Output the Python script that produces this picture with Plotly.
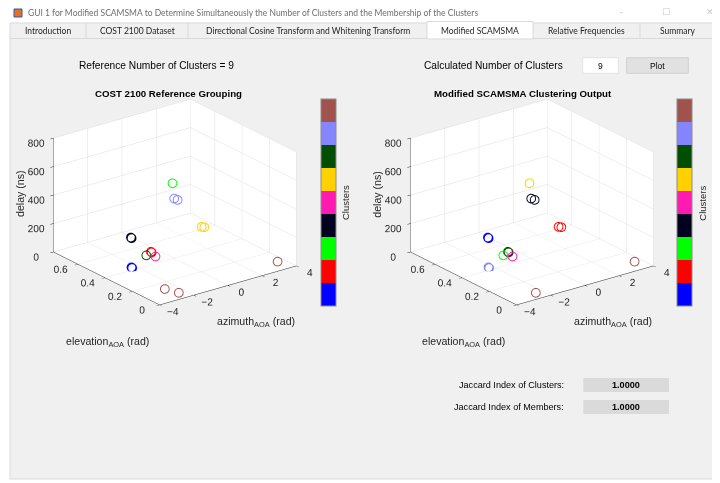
import plotly.graph_objects as go

# The page body has an 8px margin, so the figure is 712x475 and every
# pixel position below is given in window coordinates and shifted by 8.
OFF = 8
W, H = 720 - OFF, 483 - OFF

# ---------------- data ----------------
azimuth   = [-0.48, -0.38, -0.18, 0.03, 0.19, -1.72, -1.68, -1.74, -1.70, -2.01, -1.87, -2.48, -2.44, 3.28, -3.31, -2.73]
elevation = [0.35, 0.35, 0.35, 0.20, 0.20, 0.50, 0.50, 0.35, 0.35, 0.35, 0.30, 0.40, 0.40, 0.05, 0.05, 0.02]
delay     = [568, 457, 441, 316, 308, 158, 152, 130, 124, 114, 125, 22, 16, 32, 65, 33]
ref_cluster     = [3, 8, 8, 6, 6, 4, 4, 2, 2, 7, 5, 1, 1, 9, 9, 9]
scamsma_cluster = [6, 4, 4, 2, 2, 1, 1, 7, 7, 3, 5, 8, 8, 9, None, 9]

cluster_colors = ['#0000FF', '#FF0000', '#00FF00', '#00001F', '#FF1AB2',
                  '#FFD100', '#004F00', '#8585FF', '#A0524C']
n_clusters = len(cluster_colors)

azimuth_ticks = [-4, -2, 0, 2, 4]
elevation_ticks = [0, 0.2, 0.4, 0.6]
delay_ticks = [0, 200, 400, 600, 800]

tab_labels = ['Introduction', 'COST 2100 Dataset',
              'Directional Cosine Transform and Whitening Transform',
              'Modified SCAMSMA', 'Relative Frequencies', 'Summary']
tab_edges = [10, 86, 188, 427, 533, 640, 716]
selected_tab = 3

reference_n = 9
calculated_n = 9
jaccard_clusters = 1.0
jaccard_members = 1.0

# ---------------- helpers ----------------
def px(x):
    return (x - OFF) / W

def py(y):
    return 1 - (y - OFF) / H

colorscale = []
for i, c in enumerate(cluster_colors):
    colorscale.append([i / n_clusters, c])
    colorscale.append([(i + 1) / n_clusters, c])

TXT = '#262626'
UIFONT = 'Liberation Sans, Arial, sans-serif'
WINFONT = 'Lato, Noto Sans, sans-serif'

axis_common = dict(
    showbackground=True, backgroundcolor='white',
    gridcolor='#DEDEDE', gridwidth=1,
    showline=True, linecolor=TXT, linewidth=1,
    zeroline=False, ticks='outside', ticklen=4, tickcolor=TXT,
    tickfont=dict(family=UIFONT, size=11, color=TXT), tickangle=0,
    title=dict(text=''), showspikes=False,
)

D = 1.5
camera = dict(eye=dict(x=-0.558 * D, y=-0.739 * D, z=0.377 * D),
              up=dict(x=0, y=0, z=1), center=dict(x=0, y=0, z=0),
              projection=dict(type='orthographic'))

S = 1.252  # overall scale of the plot box
HALF_W, HALF_H = 165, 137


def make_scene(cx, cy):
    return dict(
        domain=dict(x=[px(cx - HALF_W), px(cx + HALF_W)], y=[py(cy + HALF_H), py(cy - HALF_H)]),
        xaxis=dict(axis_common, range=[-4, 4], tickvals=azimuth_ticks),
        yaxis=dict(axis_common, range=[0, 0.78], tickvals=elevation_ticks),
        zaxis=dict(axis_common, range=[0, 800], tickvals=delay_ticks),
        aspectmode='manual', aspectratio=dict(x=1 * S, y=1.025 * S, z=0.717 * S),
        camera=camera, bgcolor='rgba(0,0,0,0)', dragmode=False,
    )


def cluster_trace(labels, scene, cb_x):
    xs, ys, zs, cs = [], [], [], []
    for a, e, d, c in zip(azimuth, elevation, delay, labels):
        if c is None:
            continue
        xs.append(a); ys.append(e); zs.append(d); cs.append(c)
    return go.Scatter3d(
        x=xs, y=ys, z=zs, mode='markers', scene=scene, hoverinfo='skip',
        marker=dict(symbol='circle-open', size=5.5, color=cs,
                    colorscale=colorscale, cmin=0.5, cmax=n_clusters + 0.5,
                    line=dict(width=0),
                    showscale=True,
                    colorbar=dict(x=px(cb_x), xanchor='left', y=py(202.7), yanchor='middle',
                                  len=206.7, lenmode='pixels', thickness=15,
                                  thicknessmode='pixels', xpad=0, ypad=0,
                                  outlinewidth=1, outlinecolor='#8C8C8C',
                                  showticklabels=False, ticks='', tickvals=[])),
        showlegend=False,
    )


fig = go.Figure()
fig.add_trace(cluster_trace(ref_cluster, 'scene', 321))
fig.add_trace(cluster_trace(scamsma_cluster, 'scene2', 676.7))

shift = 356.7
shapes = []
annotations = []


def note(text, x, y, size, color='black', family=UIFONT, xanchor='center', textangle=0):
    annotations.append(dict(text=text, x=px(x), y=py(y), xref='paper', yref='paper',
                            xanchor=xanchor, yanchor='middle', showarrow=False,
                            textangle=textangle,
                            font=dict(family=family, size=size, color=color)))


def rect(x0, x1, y0, y1, fill, line_color=None, lw=1):
    shapes.append(dict(type='rect', xref='paper', yref='paper', x0=px(x0), x1=px(x1),
                       y0=py(y1), y1=py(y0), fillcolor=fill,
                       line=dict(color=line_color or fill, width=lw if line_color else 0),
                       layer='below'))


# window chrome
rect(OFF, 720, OFF, 22, 'white')
rect(10, 716, 23, 479, '#F0F0F0', '#D9D9D9')
rect(14, 22, 9, 17, '#E86F28', '#2A5DA8')
note('GUI 1 for Modified SCAMSMA to Determine Simultaneously the Number of Clusters and the Membership of the Clusters',
     26, 13, 8.5, color='#6E6E6E', family=WINFONT, xanchor='left')
for gx, g in [(621, '–'), (666, '☐'), (710, '✕')]:
    note(g, gx, 12, 9, color='#C8C8C8', family='DejaVu Sans')

# tabs
shapes.append(dict(type='line', xref='paper', yref='paper', x0=px(10), x1=px(716), y0=py(38.5), y1=py(38.5),
                   line=dict(color='#D9D9D9', width=1), layer='below'))
rect(tab_edges[selected_tab], tab_edges[selected_tab + 1], 21.5, 39, 'white', '#D9D9D9')
for i, lab in enumerate(tab_labels):
    x0, x1 = tab_edges[i], tab_edges[i + 1]
    if i > 0 and i != selected_tab and i != selected_tab + 1:
        shapes.append(dict(type='line', xref='paper', yref='paper', x0=px(x0), x1=px(x0),
                           y0=py(38), y1=py(23), line=dict(color='#D9D9D9', width=1), layer='below'))
    note(lab, (x0 + x1) / 2, 31, 8.5, color='#1E1E1E', family=WINFONT)

# header texts
note(f'Reference Number of Clusters = {reference_n}', 156, 65, 10.2)
note('Calculated Number of Clusters', 494, 65, 10.2)
rect(582.7, 618.3, 57.7, 73.3, 'white', '#E3E3E3')
note(str(calculated_n), 600.5, 65.5, 8.5)
rect(626.7, 688.3, 57.7, 73.3, '#E1E1E1', '#D0D0D0')
note('Plot', 657.5, 65.5, 8.5)

# plot titles
note('<b>COST 2100 Reference Grouping</b>', 168.6, 93, 9.7)
note('<b>Modified SCAMSMA Clustering Output</b>', 523, 93, 9.7)

# axis titles and colorbar titles
for dx in [0, shift]:
    note('delay (ns)', 20 + dx, 194, 10.6, color=TXT, textangle=-90)
    note('azimuth<sub>AOA</sub> (rad)', 256 + dx, 322, 10.6, color=TXT)
    note('elevation<sub>AOA</sub> (rad)', 107 + dx, 342, 10.6, color=TXT)
    note('Clusters', 346 + dx, 203, 9.5, color=TXT, textangle=-90)

# Jaccard indices
for yy, lab, val in [(385, 'Jaccard Index of Clusters:', jaccard_clusters),
                     (407, 'Jaccard Index of Members:', jaccard_members)]:
    note(lab, 566, yy, 9.1, xanchor='right')
    rect(583.3, 669, yy - 7, yy + 7, '#DADADA')
    note(f'<b>{val:.4f}</b>', 626, yy, 9.1)

fig.update_layout(
    width=W, height=H, margin=dict(l=0, r=0, t=0, b=0),
    paper_bgcolor='white', plot_bgcolor='white',
    scene=make_scene(175, 202),
    scene2=make_scene(175 + shift, 202),
    shapes=shapes, annotations=annotations, showlegend=False,
)

fig.write_html('out.html', config=dict(displayModeBar=False))
